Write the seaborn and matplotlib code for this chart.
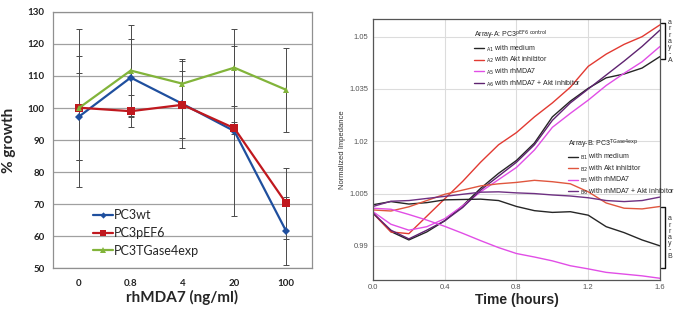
import numpy as np
import pandas as pd
import matplotlib
matplotlib.use("Agg")
import matplotlib.pyplot as plt
from matplotlib.lines import Line2D
import seaborn as sns

# ---- left panel data: % growth vs rhMDA7 dose
doses = ["0", "0.8", "4", "20", "100"]
pc3wt = [97.3, 109.5, 101.3, 92.8, 61.6]
pc3pef6 = [100.1, 99.0, 101.0, 93.7, 70.3]
pc3tgase = [100.0, 111.7, 107.6, 112.6, 105.7]
pc3wt_err = [13.5, 12.2, 13.9, 26.5, 10.6]
pc3pef6_err = [16.2, 5.0, 10.5, 1.8, 11.1]
pc3tgase_err = [24.7, 14.3, 7.0, 12.1, 13.1]

# ---- right panel data: normalized impedance vs time
hours = [0.0, 0.1, 0.2, 0.3, 0.4, 0.5, 0.6, 0.7, 0.8, 0.9,
         1.0, 1.1, 1.2, 1.3, 1.4, 1.5, 1.6]
a1_medium = [0.9994, 0.9941, 0.9917, 0.9940, 0.9972, 1.0015, 1.0065, 1.0108, 1.0145,
             1.0195, 1.0270, 1.0315, 1.0352, 1.0382, 1.0393, 1.0410, 1.0443]
a2_akt = [0.9994, 0.9940, 0.9935, 0.9985, 1.0035, 1.0085, 1.0140, 1.0190, 1.0225,
          1.0270, 1.0310, 1.0355, 1.0415, 1.0450, 1.0478, 1.0500, 1.0534]
a5_mda7 = [0.9998, 0.9962, 0.9945, 0.9955, 0.9978, 1.0015, 1.0055, 1.0090, 1.0125,
           1.0175, 1.0240, 1.0280, 1.0318, 1.0360, 1.0395, 1.0428, 1.0472]
a6_mda7_akt = [0.9994, 0.9945, 0.9920, 0.9945, 0.9972, 1.0010, 1.0060, 1.0100, 1.0140,
               1.0190, 1.0260, 1.0310, 1.0350, 1.0390, 1.0430, 1.0472, 1.0519]
b1_medium = [1.0018, 1.0027, 1.0020, 1.0024, 1.0032, 1.0033, 1.0034, 1.0030, 1.0013,
             1.0001, 0.9996, 0.9998, 0.9988, 0.9955, 0.9938, 0.9917, 0.9900]
b2_akt = [1.0003, 1.0000, 1.0012, 1.0030, 1.0048, 1.0060, 1.0072, 1.0078, 1.0082,
          1.0088, 1.0084, 1.0078, 1.0055, 1.0023, 1.0008, 1.0006, 1.0013]
b5_mda7 = [1.0008, 1.0005, 0.9990, 0.9974, 0.9956, 0.9936, 0.9915, 0.9895, 0.9878,
           0.9868, 0.9857, 0.9843, 0.9834, 0.9824, 0.9819, 0.9814, 0.9807]
b6_mda7_akt = [1.0013, 1.0028, 1.0030, 1.0036, 1.0042, 1.0048, 1.0054, 1.0055, 1.0052,
               1.0050, 1.0046, 1.0043, 1.0038, 1.0030, 1.0027, 1.0030, 1.0040]

sns.set_style("white")
plt.rcParams["font.family"] = ["Lato", "DejaVu Sans"]
arial = ["Liberation Sans", "DejaVu Sans"]

fig = plt.figure(figsize=(6.85, 3.15), dpi=100)
ax1 = fig.add_axes([0.0774, 0.149, 0.378, 0.813])
ax2 = fig.add_axes([0.5445, 0.111, 0.419, 0.829])

# ---------------- left panel ----------------
names = ["PC3wt", "PC3pEF6", "PC3TGase4exp"]
colors = {"PC3wt": "#1f4f9e", "PC3pEF6": "#c0181e", "PC3TGase4exp": "#82b43a"}
markers = {"PC3wt": "D", "PC3pEF6": "s", "PC3TGase4exp": "^"}
msizes = {"PC3wt": 4, "PC3pEF6": 6, "PC3TGase4exp": 5}
values = {"PC3wt": pc3wt, "PC3pEF6": pc3pef6, "PC3TGase4exp": pc3tgase}
errors = {"PC3wt": pc3wt_err, "PC3pEF6": pc3pef6_err, "PC3TGase4exp": pc3tgase_err}

pos = np.arange(len(doses))
growth = pd.DataFrame({
    "pos": np.tile(pos, 3),
    "growth": pc3wt + pc3pef6 + pc3tgase,
    "line": np.repeat(names, len(doses)),
})

for n in names:
    ax1.errorbar(pos, values[n], yerr=errors[n], fmt="none", ecolor="#4a4a4a",
                 elinewidth=0.7, capsize=2, capthick=0.7, zorder=2)

sns.lineplot(data=growth, x="pos", y="growth", hue="line", style="line",
             palette=colors, markers=markers, dashes=False, linewidth=1.6,
             markersize=5, markeredgewidth=0, legend=False, ax=ax1, zorder=3)
for line, n in zip(ax1.lines[-3:], names):
    line.set_markersize(msizes[n])

ax1.set_xlim(-0.5, 4.5)
ax1.set_ylim(50, 130)
ax1.set_yticks(range(50, 131, 10))
ax1.set_xticks(pos)
ax1.set_xticklabels(doses)
ax1.set_xticks(np.arange(-0.5, 4.6, 1), minor=True)
ax1.yaxis.grid(True, color="#a0a0a0", linewidth=0.9)
ax1.xaxis.grid(False)
ax1.tick_params(axis="x", which="major", length=0, pad=8, labelsize=7)
ax1.tick_params(axis="x", which="minor", length=3, color="#888888", direction="out")
ax1.tick_params(axis="y", length=3, color="#888888", direction="out", labelsize=7, pad=3)
for lab in ax1.get_xticklabels() + ax1.get_yticklabels():
    lab.set_fontweight("bold")
    lab.set_color("#222222")
for s in ax1.spines.values():
    s.set_color("#909090")
    s.set_linewidth(0.9)
ax1.set_xlabel("rhMDA7 (ng/ml)", fontsize=11, fontweight="bold", labelpad=1)
ax1.set_ylabel("% growth", fontsize=11, fontweight="bold", labelpad=8)

handles = [Line2D([], [], color=colors[n], marker=markers[n], markersize=msizes[n] * 0.8,
                  markeredgewidth=0, linewidth=1.6) for n in names]
ax1.legend(handles, names, loc="lower left", bbox_to_anchor=(0.13, 0.02), frameon=False,
           fontsize=9, handlelength=1.6, handletextpad=0.1, labelspacing=0.45,
           borderpad=0)

# ---------------- right panel ----------------
curve_names = ["A1", "A2", "A5", "A6", "B1", "B2", "B5", "B6"]
curve_values = [a1_medium, a2_akt, a5_mda7, a6_mda7_akt,
                b1_medium, b2_akt, b5_mda7, b6_mda7_akt]
curve_colors = {"A1": "#262626", "A2": "#e23a32", "A5": "#e14ee6", "A6": "#5e2370",
                "B1": "#262626", "B2": "#e0563e", "B5": "#e14ee6", "B6": "#6e3082"}
imp = pd.DataFrame({
    "hours": hours * len(curve_names),
    "impedance": sum(curve_values, []),
    "curve": np.repeat(curve_names, len(hours)),
})
sns.lineplot(data=imp, x="hours", y="impedance", hue="curve", palette=curve_colors,
             linewidth=1.0, legend=False, ax=ax2)

ax2.set_xlim(0, 1.6)
ax2.set_ylim(0.9802, 1.0551)
ax2.set_xticks([0.0, 0.4, 0.8, 1.2, 1.6])
ax2.set_xticklabels(["0.0", "0.4", "0.8", "1.2", "1.6"])
ax2.set_xticks(np.arange(0, 1.61, 0.1), minor=True)
ax2.set_yticks([0.99, 1.005, 1.02, 1.035, 1.05])
ax2.set_yticklabels(["0.99", "1.005", "1.02", "1.035", "1.05"])
ax2.grid(True, which="major", color="#dcdcdc", linewidth=0.8)
ax2.tick_params(which="both", direction="in", length=2, color="#555555",
                labelsize=5.5, labelcolor="#555555")
for lab in ax2.get_xticklabels() + ax2.get_yticklabels():
    lab.set_fontfamily(arial)
ax2.tick_params(axis="x", pad=3)
for s in ax2.spines.values():
    s.set_color("#555555")
    s.set_linewidth(0.9)
ax2.set_xlabel("Time (hours)", fontsize=10, fontweight="bold",
               fontfamily=arial, labelpad=1)
ax2.set_ylabel("Normalized Impedance", fontsize=5.5, fontfamily=arial,
               color="#333333", labelpad=2)

leg_style = dict(alignment="left", loc="upper left", frameon=False,
                 prop={"family": arial, "size": 5},
                 title_fontproperties={"family": arial, "size": 5},
                 handlelength=1.4, handletextpad=0.3, labelspacing=0.2, borderpad=0)
leg_a = ax2.legend(
    [Line2D([], [], color=curve_colors[c], linewidth=1.0) for c in ["A1", "A2", "A5", "A6"]],
    [r"$_{\rm A1}$ with medium", r"$_{\rm A2}$ with Akt inhibitor",
     r"$_{\rm A5}$ with rhMDA7", r"$_{\rm A6}$ with rhMDA7 + Akt inhibitor"],
    title=r"Array-A: PC3$^{\rm pEF6\ control}$", bbox_to_anchor=(0.34, 0.975), **leg_style)
ax2.add_artist(leg_a)
ax2.legend(
    [Line2D([], [], color=curve_colors[c], linewidth=1.0) for c in ["B1", "B2", "B5", "B6"]],
    [r"$_{\rm B1}$ with medium", r"$_{\rm B2}$ with Akt inhibitor",
     r"$_{\rm B5}$ with rhMDA7", r"$_{\rm B6}$ with rhMDA7 + Akt inhibitor"],
    title=r"Array-B: PC3$^{\rm TGase4exp}$", bbox_to_anchor=(0.668, 0.56), **leg_style)

# brackets marking array A and array B
for top, bot, tag in [(0.983, 0.845, "A"), (0.28, 0.045, "B")]:
    ax2.plot([1.003, 1.017, 1.017, 1.003], [top, top, bot, bot], transform=ax2.transAxes,
             color="#111111", linewidth=1.0, clip_on=False)
    ax2.text(1.035, (top + bot) / 2, "a\nr\nr\na\ny\n-\n" + tag, transform=ax2.transAxes,
             ha="center", va="center", fontsize=5, linespacing=0.85,
             fontfamily=arial, color="#333333")

fig.savefig("out.png", dpi=100)
